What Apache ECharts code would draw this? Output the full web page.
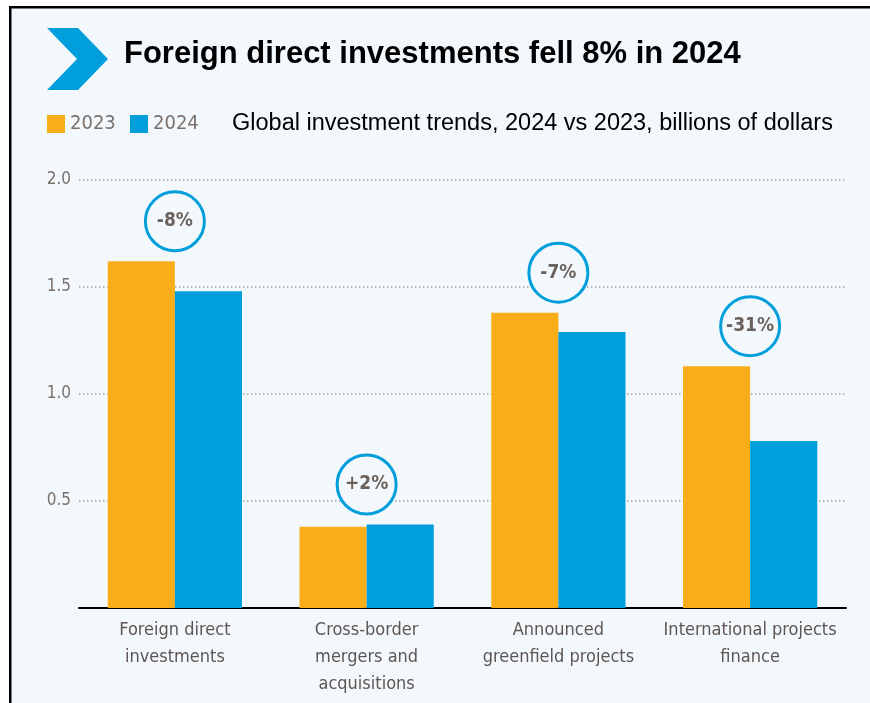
<!DOCTYPE html>
<html>
<head>
<meta charset="utf-8">
<script src="https://cdn.jsdelivr.net/npm/echarts@6/dist/echarts.min.js"></script>
<style>
html,body{margin:0;padding:0;background:#fff;}
#chart{width:870px;height:703px;}
</style>
</head>
<body>
<div id="chart"></div>
<script>
var categories = ["Foreign direct\ninvestments", "Cross-border\nmergers and\nacquisitions", "Announced\ngreenfield projects", "International projects\nfinance"];
var values2023 = [1.62, 0.38, 1.38, 1.13];
var values2024 = [1.48, 0.39, 1.29, 0.78];
var changeLabels = ["-8%", "+2%", "-7%", "-31%"];
var yTicks = [0, 0.5, 1.0, 1.5, 2.0];

var BG = '#f3f8fd';
var ORANGE = '#f9ae19';
var BLUE = '#009fdb';
var NARROW = "'Liberation Sans Narrow', 'DejaVu Sans Condensed', sans-serif";

var circleData = values2023.map(function (v, i) { return Math.max(v, values2024[i]); });

var chart = echarts.init(document.getElementById('chart'), null, {renderer: 'canvas'});
chart.setOption({
  backgroundColor: '#ffffff',
  animation: false,
  graphic: [
    {type: 'rect', z: -10, silent: true, shape: {x: 9, y: 6, width: 861, height: 697}, style: {fill: BG}},
    {type: 'rect', z: -9, silent: true, shape: {x: 9, y: 6, width: 861, height: 2.5}, style: {fill: '#000'}},
    {type: 'rect', z: -9, silent: true, shape: {x: 9, y: 6, width: 2.5, height: 697}, style: {fill: '#000'}},
    {type: 'polygon', silent: true, shape: {points: [[47, 28], [78, 28], [108, 59], [78, 90], [47, 90], [77, 59]]}, style: {fill: BLUE}},
    {type: 'text', silent: true, left: 124, top: 39, style: {text: 'Foreign direct investments fell 8% in 2024', font: 'bold 31px "Liberation Sans", Arial, sans-serif', fill: '#000'}},
    {type: 'rect', silent: true, shape: {x: 47, y: 115, width: 18, height: 18}, style: {fill: ORANGE}},
    {type: 'text', silent: true, left: 70, top: 114, style: {text: '2023', font: '20px ' + NARROW, fill: '#7a716b'}},
    {type: 'rect', silent: true, shape: {x: 130, y: 115, width: 18, height: 18}, style: {fill: BLUE}},
    {type: 'text', silent: true, left: 153, top: 114, style: {text: '2024', font: '20px ' + NARROW, fill: '#7a716b'}},
    {type: 'text', silent: true, left: 232, top: 112, style: {text: 'Global investment trends, 2024 vs 2023, billions of dollars', font: '23.5px "Liberation Sans", Arial, sans-serif', fill: '#000'}}
  ],
  grid: {left: 79, right: 24, top: 180, bottom: 95, containLabel: false},
  xAxis: {
    type: 'category',
    data: categories,
    axisTick: {show: false},
    axisLine: {lineStyle: {color: '#000', width: 2}},
    axisLabel: {margin: 9, fontSize: 18, lineHeight: 27, color: '#5d5652', fontFamily: NARROW, interval: 0}
  },
  yAxis: {
    type: 'value',
    min: yTicks[0],
    max: yTicks[yTicks.length - 1],
    interval: 0.5,
    axisLine: {show: false},
    axisTick: {show: false},
    axisLabel: {margin: 8, fontSize: 17, color: '#7a716b', fontFamily: NARROW,
      formatter: function (v) { return v === 0 ? '' : v.toFixed(1); }},
    splitLine: {show: true, lineStyle: {color: '#a8a29e', width: 1.5, type: [1.5, 2.5]}}
  },
  series: [
    {name: '2023', type: 'bar', data: values2023, barGap: '0%', barCategoryGap: '30%',
      itemStyle: {color: ORANGE}},
    {name: '2024', type: 'bar', data: values2024, barGap: '0%', barCategoryGap: '30%',
      itemStyle: {color: BLUE}},
    {name: 'change', type: 'scatter', data: circleData, symbol: 'circle', symbolSize: 59,
      symbolOffset: [0, -40], z: 5,
      itemStyle: {color: BG, borderColor: BLUE, borderWidth: 3, opacity: 1},
      label: {show: true, position: 'inside',
        formatter: function (p) { return changeLabels[p.dataIndex]; },
        fontSize: 19, fontWeight: 'bold', color: '#6b615b', fontFamily: NARROW}}
  ]
});
</script>
</body>
</html>
